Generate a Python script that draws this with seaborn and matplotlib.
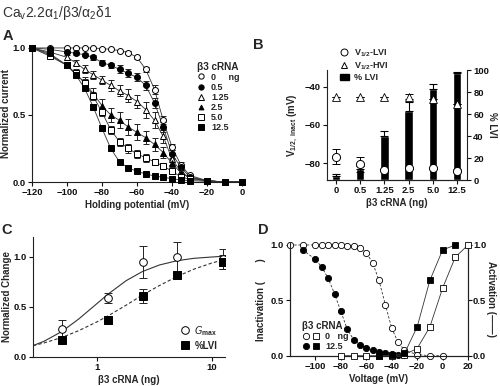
import numpy as np
import pandas as pd
import matplotlib
matplotlib.use("Agg")
import matplotlib.pyplot as plt
import seaborn as sns
from matplotlib.lines import Line2D
from matplotlib.patches import Patch
from matplotlib.legend_handler import HandlerTuple

sns.set_theme(style="ticks")
plt.rcParams['font.family'] = ['Liberation Sans', 'DejaVu Sans']
plt.rcParams['mathtext.default'] = 'regular'
plt.rcParams['axes.linewidth'] = 0.8
plt.rcParams['xtick.major.width'] = 0.8
plt.rcParams['ytick.major.width'] = 0.8
plt.rcParams['xtick.major.size'] = 3
plt.rcParams['ytick.major.size'] = 3
plt.rcParams['axes.edgecolor'] = '#222222'

# ---------------- Panel A data ----------------
hold_v = [-120, -110, -100, -95, -90, -85, -80, -75, -70, -65, -60, -55, -50, -45, -40, -35, -30, -20, -10, 0]
a_labels = ["0     ng", "0.5", "1.25", "2.5", "5.0", "12.5"]
a_0ng = [1.0, 1.0, 1.0, 1.0, 1.0, 1.0, 0.995, 0.99, 0.98, 0.965, 0.93, 0.84, 0.69, 0.46, 0.26, 0.13, 0.05, 0.01, 0.0, 0.0]
a_05ng = [1.0, 0.99, 0.97, 0.96, 0.95, 0.93, 0.89, 0.87, 0.84, 0.81, 0.78, 0.72, 0.59, 0.41, 0.21, 0.11, 0.04, 0.01, 0.0, 0.0]
a_125ng = [1.0, 0.97, 0.93, 0.89, 0.84, 0.80, 0.76, 0.72, 0.68, 0.645, 0.60, 0.54, 0.46, 0.34, 0.17, 0.08, 0.03, 0.01, 0.0, 0.0]
a_25ng = [1.0, 0.95, 0.87, 0.81, 0.74, 0.66, 0.57, 0.50, 0.46, 0.41, 0.37, 0.33, 0.28, 0.22, 0.14, 0.07, 0.03, 0.01, 0.0, 0.0]
a_5ng = [1.0, 0.94, 0.87, 0.81, 0.74, 0.64, 0.52, 0.39, 0.30, 0.25, 0.21, 0.18, 0.15, 0.12, 0.08, 0.04, 0.02, 0.01, 0.0, 0.0]
a_125ng_b = [1.0, 0.96, 0.87, 0.80, 0.70, 0.56, 0.40, 0.25, 0.15, 0.105, 0.08, 0.06, 0.045, 0.035, 0.025, 0.015, 0.01, 0.005, 0.0, 0.0]
a_err_0 = [0, 0, 0, 0, 0, 0, 0, 0, 0, 0.01, 0.01, 0.02, 0.03, 0.03, 0.02, 0.02, 0.01, 0, 0, 0]
a_err_05 = [0, 0, 0.01, 0.01, 0.01, 0.02, 0.02, 0.02, 0.03, 0.03, 0.03, 0.03, 0.04, 0.04, 0.03, 0.02, 0.01, 0, 0, 0]
a_err_125 = [0, 0, 0.02, 0.02, 0.03, 0.03, 0.03, 0.04, 0.04, 0.05, 0.05, 0.06, 0.06, 0.05, 0.04, 0.02, 0.01, 0, 0, 0]
a_err_25 = [0, 0, 0.02, 0.03, 0.04, 0.04, 0.05, 0.05, 0.06, 0.06, 0.06, 0.05, 0.05, 0.04, 0.03, 0.02, 0.01, 0, 0, 0]
a_err_5 = [0, 0, 0.02, 0.02, 0.03, 0.03, 0.03, 0.03, 0.03, 0.03, 0.03, 0.03, 0.02, 0.02, 0.02, 0.01, 0.01, 0, 0, 0]
a_err_125b = [0, 0, 0.01, 0.01, 0.01, 0.02, 0.02, 0.02, 0.01, 0.01, 0.01, 0.01, 0.01, 0.01, 0.01, 0.01, 0, 0, 0, 0]

# ---------------- Panel B data ----------------
b_cats = ["0", "0.5", "1.25", "2.5", "5.0", "12.5"]
b_lvi_pct = [4, 10, 40, 63, 83, 97.5]
b_lvi_err = [1.5, 3, 5, 8, 4, 1]
b_vhalf_lvi = [-76.5, -80.5, -83.5, -82.5, -82.5, -83.8]
b_vhalf_lvi_err = [3.8, 4.0, 0.6, 0.6, 0.6, 0.6]
b_vhalf_hvi = [-45.2, -45.2, -45.2, -45.2, -46.5, -49.0]
b_vhalf_hvi_err = [0, 0, 0, 1.3, 0, 0]

# ---------------- Panel C data ----------------
c_dose = [0.5, 1.25, 2.5, 5.0, 12.5]
c_gmax = [0.28, 0.59, 0.95, 1.0, 0.98]
c_gmax_err = [0.09, 0.05, 0.16, 0.15, 0.10]
c_lvi = [0.17, 0.37, 0.61, 0.82, 0.95]
c_lvi_err = [0.02, 0.04, 0.07, 0.04, 0.07]
c_fit_x = [0.28, 0.35, 0.5, 0.7, 1.0, 1.25, 1.8, 2.5, 3.5, 5.0, 7.0, 10.0, 12.5]
c_fit_gmax = [0.114, 0.158, 0.256, 0.381, 0.532, 0.627, 0.763, 0.855, 0.92, 0.963, 0.987, 1.0, 1.007]
c_fit_lvi = [0.113, 0.141, 0.196, 0.264, 0.35, 0.41, 0.518, 0.62, 0.714, 0.806, 0.879, 0.94, 0.97]

# ---------------- Panel D data ----------------
d_inact_v0 = [-120, -110, -100, -95, -90, -85, -80, -75, -70, -65, -60, -55, -50, -45, -40, -35, -30, -20, -10, 0]
d_inact_0 = [1.0, 1.0, 1.0, 1.0, 1.0, 1.0, 1.0, 0.995, 0.99, 0.975, 0.93, 0.84, 0.68, 0.46, 0.25, 0.12, 0.05, 0.01, 0.0, 0.0]
d_inact_v12 = [-110, -100, -95, -90, -85, -80, -75, -70, -65, -60, -55, -50, -45, -40, -35, -30]
d_inact_12 = [0.955, 0.87, 0.80, 0.70, 0.56, 0.40, 0.24, 0.145, 0.10, 0.072, 0.055, 0.036, 0.02, 0.012, 0.008, 0.005]
d_act_v0 = [-80, -70, -60, -50, -40, -30, -20, -10, 0, 10, 20]
d_act_0 = [0.0, 0.0, 0.0, 0.0, 0.0, 0.01, 0.065, 0.26, 0.61, 0.89, 1.0]
d_act_v12 = [-50, -40, -30, -20, -10, 0, 10]
d_act_12 = [0.0, 0.005, 0.02, 0.26, 0.68, 0.955, 1.0]

W, H = 500, 386
fig = plt.figure(figsize=(5, 3.86), dpi=100)

def fbox(x0, y0, x1, y1):
    return [x0 / W, (H - y1) / H, (x1 - x0) / W, (y1 - y0) / H]

LB = dict(fontsize=7, fontweight='bold')
line_c = '#333333'

def style_ticks(ax):
    for t in ax.get_xticklabels() + ax.get_yticklabels():
        t.set_fontsize(6.8)
        t.set_fontweight('bold')
    ax.tick_params(pad=1.5, colors='#111111')

# ================= Panel A =================
axA = fig.add_axes(fbox(32, 45, 242, 182))
a_series = [a_0ng, a_05ng, a_125ng, a_25ng, a_5ng, a_125ng_b]
a_errs = [a_err_0, a_err_05, a_err_125, a_err_25, a_err_5, a_err_125b]
a_marks = ['o', 'o', '^', '^', 's', 's']
a_fill = ['white', 'black', 'white', 'black', 'white', 'black']
a_ms = [4.3, 4.3, 4.5, 4.0, 4.5, 4.3]
handles = []
for lab, ys, es, m, fc, ms in zip(a_labels, a_series, a_errs, a_marks, a_fill, a_ms):
    df = pd.DataFrame({'v': hold_v, 'y': ys})
    sns.lineplot(data=df, x='v', y='y', ax=axA, color=line_c, lw=0.6, zorder=2)
    axA.errorbar(hold_v, ys, yerr=es, fmt='none', ecolor='#222222', elinewidth=0.7, capsize=2, capthick=0.7, zorder=3)
    axA.plot(hold_v, ys, linestyle='none', marker=m, ms=ms, mfc=fc, mec='black', mew=0.7, zorder=4, clip_on=False)
    handles.append(Line2D([], [], linestyle='none', marker=m, ms=ms - 0.5, mfc=fc, mec='black', mew=0.7))
axA.set_xlim(-120, 0)
axA.set_ylim(0, 1.022)
axA.set_xticks([-120, -100, -80, -60, -40, -20, 0])
axA.set_yticks([0.0, 0.5, 1.0])
axA.set_yticklabels(['0.0', '0.5', '1.0'])
axA.set_xlabel('Holding potential (mV)', labelpad=2, **LB)
axA.set_ylabel('Normalized current', labelpad=1, **LB)
sns.despine(ax=axA)
style_ticks(axA)
legA = axA.legend(handles, a_labels, title='β3 cRNA', loc='upper left',
                  bbox_to_anchor=(192 / W, (H - 57) / H), bbox_transform=fig.transFigure,
                  frameon=False, fontsize=6.5, labelspacing=0.12, handlelength=1.0,
                  handletextpad=0.6, borderpad=0, title_fontsize=7.2)
legA.get_title().set_fontweight('bold')
for t in legA.get_texts():
    t.set_fontweight('bold')

# ================= Panel B =================
axB = fig.add_axes(fbox(327, 70, 467, 180))
bdf = pd.DataFrame({'cat': b_cats, 'pct': b_lvi_pct})
sns.barplot(data=bdf, x='cat', y='pct', order=b_cats, ax=axB, color='black',
            width=0.35, saturation=1, errorbar=None, zorder=2)
bx = np.arange(len(b_cats))
axB.errorbar(bx, b_lvi_pct, yerr=[np.zeros(len(b_cats)), b_lvi_err], fmt='none',
             ecolor='black', elinewidth=0.8, capsize=3, capthick=0.8, zorder=3)
axB.set_ylim(0, 100)
axB.set_xlim(-0.37, 5.41)
axB.set_yticks([0, 20, 40, 60, 80, 100])
axB.set_xlabel('β3 cRNA (ng)', labelpad=2, **LB)

axB2 = axB.twinx()
# twinx moves the host ticks to the left; put the bars' axis back on the right
axB.yaxis.tick_right()
axB.yaxis.set_label_position('right')
axB.set_ylabel('% LVI', rotation=270, labelpad=6, **LB)
axB2.yaxis.tick_left()
axB2.yaxis.set_label_position('left')
for s in ['top', 'left']:
    axB.spines[s].set_visible(False)
style_ticks(axB)

axB2.errorbar(bx, b_vhalf_lvi, yerr=b_vhalf_lvi_err, fmt='none', ecolor='black',
              elinewidth=0.7, capsize=3, capthick=0.7, zorder=3)
axB2.errorbar(bx, b_vhalf_hvi, yerr=b_vhalf_hvi_err, fmt='none', ecolor='black',
              elinewidth=0.7, capsize=3, capthick=0.7, zorder=3)
sns.scatterplot(x=bx, y=b_vhalf_lvi, ax=axB2, marker='o', s=34, color='white',
                edgecolor='black', linewidth=0.7, zorder=4)
sns.scatterplot(x=bx, y=b_vhalf_hvi, ax=axB2, marker='^', s=32, color='white',
                edgecolor='black', linewidth=0.6, zorder=4)
axB2.set_ylim(-88.7, -31.3)
axB2.set_yticks([-80, -60, -40])
axB2.set_ylabel(r'V$_{1/2,\ inact}$ (mV)', labelpad=3, **LB)
axB2.spines['top'].set_visible(False)
axB2.spines['left'].set_visible(True)
axB2.spines['right'].set_visible(False)
style_ticks(axB2)
hB = [Line2D([], [], linestyle='none', marker='o', ms=5, mfc='white', mec='black', mew=0.7),
      Line2D([], [], linestyle='none', marker='^', ms=5, mfc='white', mec='black', mew=0.7),
      Patch(facecolor='black', edgecolor='black')]
legB = axB2.legend(hB, [r'V$_{1/2}$-LVI', r'V$_{1/2}$-HVI', '% LVI'], loc='upper left',
                   bbox_to_anchor=(335 / W, (H - 43) / H), bbox_transform=fig.transFigure,
                   frameon=False, fontsize=6.5, labelspacing=0.15, handlelength=1.0,
                   handletextpad=0.6, borderpad=0)
for t in legB.get_texts():
    t.set_fontweight('bold')

# ================= Panel C =================
axC = fig.add_axes(fbox(33, 237, 225, 357))
sns.lineplot(x=c_fit_x, y=c_fit_gmax, ax=axC, color=line_c, lw=0.8, zorder=2)
sns.lineplot(x=c_fit_x, y=c_fit_lvi, ax=axC, color=line_c, lw=0.8, zorder=2, linestyle=(0, (3, 2)))
axC.errorbar(c_dose, c_gmax, yerr=c_gmax_err, fmt='none', ecolor='#222222', elinewidth=0.7, capsize=3, capthick=0.7, zorder=3)
axC.errorbar(c_dose, c_lvi, yerr=c_lvi_err, fmt='none', ecolor='#222222', elinewidth=0.7, capsize=3, capthick=0.7, zorder=3)
axC.plot(c_dose, c_gmax, linestyle='none', marker='o', ms=5.5, mfc='white', mec='black', mew=0.7, zorder=4)
axC.plot(c_dose, c_lvi, linestyle='none', marker='s', ms=5.5, mfc='black', mec='black', mew=0.7, zorder=4)
axC.set_xscale('log')
axC.set_xlim(0.28, 13.0)
axC.set_ylim(0, 1.2)
axC.set_xticks([1, 10])
axC.set_xticklabels(['1', '10'])
axC.xaxis.set_minor_locator(matplotlib.ticker.NullLocator())
axC.set_yticks([0.0, 0.5, 1.0])
axC.set_yticklabels(['0.0', '0.5', '1.0'])
axC.set_xlabel('β3 cRNA (ng)', labelpad=2, **LB)
axC.set_ylabel('Normalized Change', labelpad=1, **LB)
sns.despine(ax=axC)
style_ticks(axC)
hC = [Line2D([], [], linestyle='none', marker='o', ms=5.5, mfc='white', mec='black', mew=0.7),
      Line2D([], [], linestyle='none', marker='s', ms=5.5, mfc='black', mec='black', mew=0.7)]
legC = axC.legend(hC, [r'$\mathit{G}_{max}$', '%LVI'], loc='upper left',
                  bbox_to_anchor=(175 / W, (H - 319) / H), bbox_transform=fig.transFigure,
                  frameon=False, fontsize=7, labelspacing=0.3, handlelength=1.0,
                  handletextpad=0.5, borderpad=0)
for t in legC.get_texts():
    t.set_fontweight('bold')

# ================= Panel D =================
axD = fig.add_axes(fbox(290, 243, 468, 355.7))
sns.lineplot(x=d_inact_v0, y=d_inact_0, ax=axD, color=line_c, lw=0.6, linestyle=(0, (3, 2)), zorder=2)
sns.lineplot(x=d_inact_v12, y=d_inact_12, ax=axD, color=line_c, lw=0.6, linestyle=(0, (3, 2)), zorder=2)
axD.plot(d_inact_v0, d_inact_0, linestyle='none', marker='o', ms=4.5, mfc='white', mec='black', mew=0.6, zorder=4, clip_on=False)
axD.plot(d_inact_v12, d_inact_12, linestyle='none', marker='o', ms=4.5, mfc='black', mec='black', mew=0.6, zorder=4, clip_on=False)
axD.set_xlim(-120, 20)
axD.set_ylim(0, 1.018)
axD.set_xticks([-100, -80, -60, -40, -20, 0, 20])
axD.set_yticks([0.0, 0.5, 1.0])
axD.set_yticklabels(['0.0', '0.5', '1.0'])
axD.set_xlabel('Voltage (mV)', labelpad=2, **LB)
axD.set_ylabel('Inactivation (       )', labelpad=3, **LB)
axD.spines['top'].set_visible(False)
style_ticks(axD)

axD2 = axD.twinx()
sns.lineplot(x=d_act_v0, y=d_act_0, ax=axD2, color=line_c, lw=0.6, zorder=2)
sns.lineplot(x=d_act_v12, y=d_act_12, ax=axD2, color=line_c, lw=0.6, zorder=2)
axD2.plot(d_act_v0, d_act_0, linestyle='none', marker='s', ms=4.5, mfc='white', mec='black', mew=0.6, zorder=4, clip_on=False)
axD2.plot(d_act_v12, d_act_12, linestyle='none', marker='s', ms=4.5, mfc='black', mec='black', mew=0.6, zorder=4, clip_on=False)
axD2.set_ylim(0, 1.018)
axD2.set_yticks([0.0, 0.5, 1.0])
axD2.set_yticklabels(['0.0', '0.5', '1.0'])
axD2.set_ylabel('Activation (——)', rotation=270, labelpad=7, **LB)
axD2.spines['top'].set_visible(False)
style_ticks(axD2)
axD2.tick_params(axis='y', pad=0.5)

hD = [(Line2D([], [], linestyle='none', marker='o', ms=4.5, mfc='white', mec='black', mew=0.6),
       Line2D([], [], linestyle='none', marker='s', ms=4.5, mfc='white', mec='black', mew=0.6)),
      (Line2D([], [], linestyle='none', marker='o', ms=4.5, mfc='black', mec='black', mew=0.6),
       Line2D([], [], linestyle='none', marker='s', ms=4.5, mfc='black', mec='black', mew=0.6))]
legD = axD2.legend(hD, ['0   ng', '12.5'], title='β3 cRNA', loc='upper left',
                   bbox_to_anchor=(297 / W, (H - 316) / H), bbox_transform=fig.transFigure,
                   frameon=False, fontsize=6.5, labelspacing=0.15, handlelength=2.0,
                   handletextpad=0.6, borderpad=0, title_fontsize=7,
                   handler_map={tuple: HandlerTuple(ndivide=None, pad=0.2)})
legD._legend_box.align = 'left'
legD.get_title().set_fontweight('bold')
for t in legD.get_texts():
    t.set_fontweight('bold')

# ================= Titles / panel letters =================
fig.text(2 / W, 1 - 13 / H, r'Ca$_{v}$2.2α$_{1}$/β3/α$_{2}$δ1', fontsize=10, color='#333333', va='center', ha='left')
for letter, (px, py) in {'A': (3, 36), 'B': (253, 45), 'C': (1, 230), 'D': (258, 230)}.items():
    fig.text(px / W, 1 - py / H, letter, fontsize=10.5, fontweight='bold', va='center', ha='left')

fig.savefig('out.png', dpi=100)
